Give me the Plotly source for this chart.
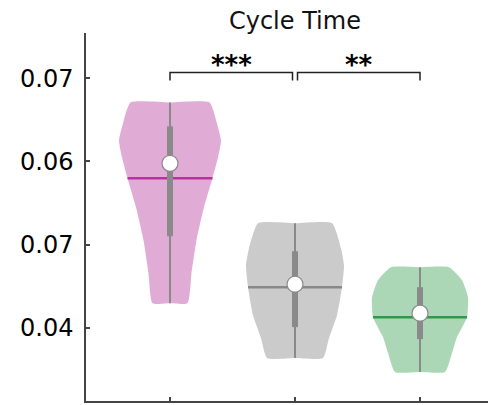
import numpy as np
import plotly.graph_objects as go

# ---------------- data ----------------
groups = ["Group 1", "Group 2", "Group 3"]
positions = [0, 1, 2]

# violin outlines: value levels (top -> bottom) and half-widths (in category units)
levels_1 = [0.06708, 0.06456, 0.06252, 0.06048, 0.05796, 0.05448, 0.05052, 0.04655, 0.04295]
half_1 = [0.316, 0.376, 0.408, 0.384, 0.340, 0.272, 0.212, 0.172, 0.140]
levels_2 = [0.05256, 0.04956, 0.04751, 0.04487, 0.04151, 0.03875, 0.03635]
half_2 = [0.296, 0.368, 0.392, 0.376, 0.336, 0.272, 0.224]
levels_3 = [0.04727, 0.04571, 0.04367, 0.04127, 0.03887, 0.03695, 0.03467]
half_3 = [0.232, 0.336, 0.384, 0.376, 0.296, 0.256, 0.200]

medians = [0.05796, 0.04487, 0.04127]
means = [0.05976, 0.04523, 0.04175]
q1 = [0.05100, 0.04007, 0.03863]
q3 = [0.06420, 0.04919, 0.04487]

tick_vals = [0.07, 0.06, 0.05, 0.04]
tick_text = ["0.07", "0.06", "0.07", "0.04"]

bracket_pairs = [(0.0, 0.98), (1.02, 2.0)]
bracket_labels = ["***", "**"]
bracket_level = 0.07068
bracket_drop = 0.00096

title_text = "Cycle Time"

# ---------------- styles ----------------
fill_colors = ["#e0abd5", "#cbcbcb", "#acd7b7"]
median_colors = ["#b8329f", "#888888", "#2e9a48"]
box_color = "#8a8a8a"
axis_color = "#444444"
FONT = "DejaVu Sans"

levels_all = [levels_1, levels_2, levels_3]
half_all = [half_1, half_2, half_3]

fig = go.Figure()

for i in range(3):
    lv = np.array(levels_all[i])
    hw = np.array(half_all[i])
    p = positions[i]
    xs = [p] + list(p + hw) + [p] + list(p - hw[::-1]) + [p]
    ys = [lv[0]] + list(lv) + [lv[-1]] + list(lv[::-1]) + [lv[0]]
    fig.add_trace(go.Scatter(
        x=xs, y=ys, mode="lines", fill="toself",
        fillcolor=fill_colors[i], line=dict(width=0, color=fill_colors[i], shape="spline", smoothing=0.5),
        hoverinfo="skip", showlegend=False,
    ))
    # median line spanning the violin width
    mw = float(np.interp(medians[i], lv[::-1], hw[::-1]))
    fig.add_trace(go.Scatter(
        x=[p - mw, p + mw], y=[medians[i], medians[i]], mode="lines",
        line=dict(color=median_colors[i], width=2.5), hoverinfo="skip", showlegend=False,
    ))
    # whisker
    fig.add_trace(go.Scatter(
        x=[p, p], y=[lv.max(), lv.min()], mode="lines",
        line=dict(color=box_color, width=2), hoverinfo="skip", showlegend=False,
    ))
    # IQR bar
    fig.add_trace(go.Scatter(
        x=[p, p], y=[q3[i], q1[i]], mode="lines",
        line=dict(color=box_color, width=6), hoverinfo="skip", showlegend=False,
    ))
    # mean marker
    fig.add_trace(go.Scatter(
        x=[p], y=[means[i]], mode="markers",
        marker=dict(size=16, color="white", line=dict(color=box_color, width=1.2)),
        hoverinfo="skip", showlegend=False,
    ))

# significance brackets
for (a, b), lab in zip(bracket_pairs, bracket_labels):
    fig.add_shape(type="path",
                  path=f"M {a} {bracket_level - bracket_drop} L {a} {bracket_level} L {b} {bracket_level} L {b} {bracket_level - bracket_drop}",
                  xref="x", yref="y", line=dict(color="#222222", width=1.5))
    fig.add_annotation(x=(a + b) / 2, y=bracket_level, xref="x", yref="y",
                       text=f"<b>{lab}</b>", showarrow=False, yanchor="bottom", yshift=-9,
                       font=dict(family=FONT, size=26, color="black"))

# page body has an 8px margin, so the figure is sized to fit the 496x405 window
fig.update_layout(
    width=488, height=397,
    margin=dict(l=78, r=0, t=25, b=4),
    plot_bgcolor="white", paper_bgcolor="white",
    font=dict(family=FONT, size=24, color="black"),
    title=dict(text=title_text, x=0.588, xanchor="center", xref="container",
               y=0.968, yanchor="middle", yref="container",
               font=dict(family=FONT, size=24, color="#111111")),
    xaxis=dict(range=[-0.672, 2.608], tickvals=positions, ticktext=["", "", ""],
               showline=True, linecolor=axis_color, linewidth=1.5,
               ticks="inside", ticklen=4, tickcolor=axis_color, tickwidth=1.5,
               showgrid=False, zeroline=False),
    yaxis=dict(range=[0.03119, 0.07543], tickvals=tick_vals, ticktext=tick_text,
               showline=True, linecolor=axis_color, linewidth=1.5,
               ticks="inside", ticklen=4, tickcolor=axis_color, tickwidth=1.5,
               showgrid=False, zeroline=False, ticklabelstandoff=6,
               tickfont=dict(family=FONT, size=24, color="black")),
)

fig.write_html("out.html")
